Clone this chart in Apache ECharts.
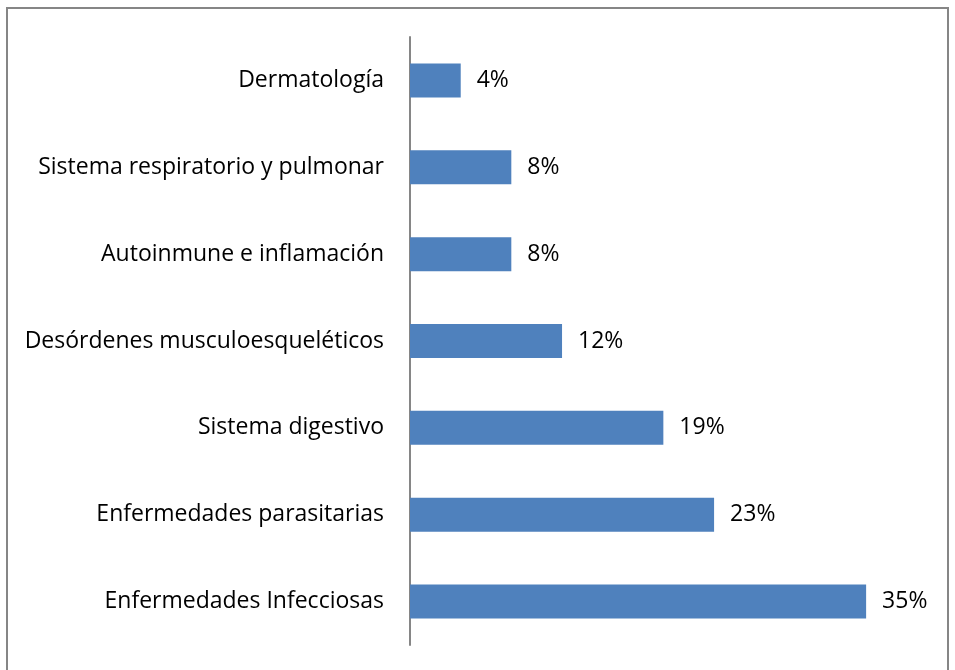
<!DOCTYPE html>
<html>
<head>
<meta charset="utf-8">
<script src="https://cdn.jsdelivr.net/npm/echarts@6/dist/echarts.min.js"></script>
<style>
html,body{margin:0;padding:0;background:#fff;}
#chart{width:955px;height:670px;}
</style>
</head>
<body>
<div id="chart"></div>
<script>
// Categories listed bottom to top
const categories = [
  "Enfermedades Infecciosas",
  "Enfermedades parasitarias",
  "Sistema digestivo",
  "Desórdenes musculoesqueléticos",
  "Autoinmune e inflamación",
  "Sistema respiratorio y pulmonar",
  "Dermatología"
];
const values = [34.62, 23.08, 19.23, 11.54, 7.69, 7.69, 3.85];
const valueLabels = ["35%", "23%", "19%", "12%", "8%", "8%", "4%"];

const chart = echarts.init(document.getElementById('chart'));
chart.setOption({
  animation: false,
  backgroundColor: '#fff',
  graphic: [{
    type: 'rect',
    shape: {x: 7, y: 8, width: 941, height: 700},
    style: {fill: 'none', stroke: '#868686', lineWidth: 2},
    silent: true
  }],
  grid: {left: 410, right: 18, top: 37, bottom: 25, containLabel: false},
  xAxis: {
    type: 'value', min: 0, max: 40, show: false
  },
  yAxis: {
    type: 'category',
    data: categories,
    axisTick: {show: false},
    axisLine: {show: true, lineStyle: {color: '#868686', width: 2}},
    axisLabel: {color: '#000', fontFamily: 'Open Sans', fontSize: 23, margin: 26}
  },
  series: [{
    type: 'bar',
    data: values,
    barWidth: 34,
    itemStyle: {color: '#4F81BD'},
    label: {
      show: true, position: 'right', distance: 16,
      color: '#000', fontFamily: 'Open Sans', fontSize: 23,
      formatter: p => valueLabels[p.dataIndex]
    }
  }]
});
</script>
</body>
</html>
